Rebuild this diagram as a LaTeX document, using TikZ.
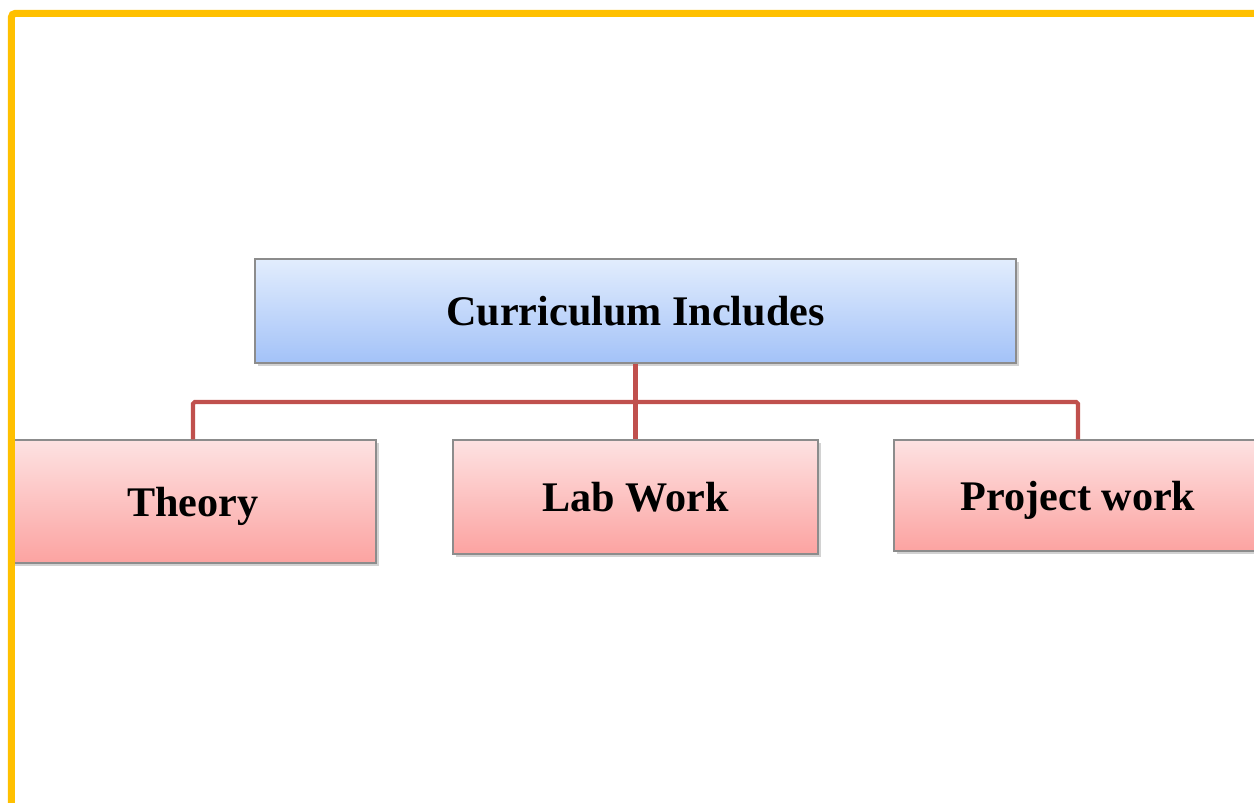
\documentclass[tikz,border=0pt]{standalone}
\usepackage{fontspec}
\setmainfont{Liberation Serif}
\usetikzlibrary{shadows}
\definecolor{frameorange}{HTML}{FFC000}
\definecolor{linkred}{HTML}{C0504D}
\definecolor{bluetop}{HTML}{E2EDFD}
\definecolor{bluebot}{HTML}{A3C2F8}
\definecolor{pinktop}{HTML}{FDE2E2}
\definecolor{pinkbot}{HTML}{FCA3A1}
\definecolor{edgegray}{HTML}{8C8C8C}
\begin{document}
\begin{tikzpicture}[
	box/.style={draw=edgegray, line width=0.6pt, inner sep=0pt, text depth=0pt,
		font=\fontsize{24}{28}\selectfont\bfseries,
		drop shadow={shadow xshift=1.5pt, shadow yshift=-1.5pt, opacity=0.35}},
	headbox/.style={box, top color=bluetop, bottom color=bluebot},
	partbox/.style={box, top color=pinktop, bottom color=pinkbot},
	link/.style={draw=linkred, line width=2.3pt, rounded corners=1pt}]
	\useasboundingbox (0,0) rectangle (25.08,16.06);
	\fill[white] (0,0) rectangle (25.08,16.06);
	\node[headbox, minimum width=15.22cm, minimum height=2.08cm] (head) at (12.71,9.84) {Curriculum Includes};
	\node[partbox, minimum width=7.32cm, minimum height=2.46cm] (theory) at (3.86,6.03) {Theory};
	\node[partbox, minimum width=7.30cm, minimum height=2.28cm] (lab) at (12.71,6.12) {Lab Work};
	\node[partbox, minimum width=7.36cm, minimum height=2.22cm] (project) at (21.56,6.15) {Project work};
	\coordinate (bus) at (12.71,8.02);
	\draw[link] (head.south) -- (lab.north);
	\draw[link] (theory.north) |- (bus) -| (project.north);
	\draw[frameorange, line width=0.14cm, rounded corners=2pt] (0.23,-0.5)--(0.23,15.79)--(25.6,15.79);
\end{tikzpicture}
\end{document}
